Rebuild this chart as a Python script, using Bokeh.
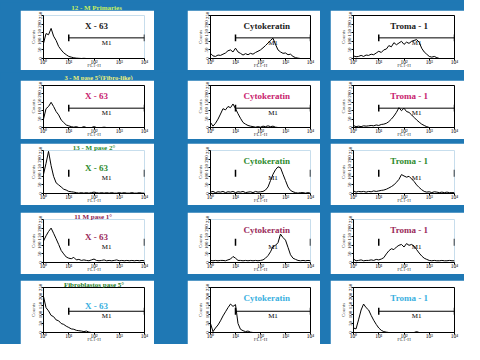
from bokeh.plotting import figure
from bokeh.layouts import row, column
from bokeh.models import Spacer, Label, FixedTicker
from bokeh.embed import file_html
from bokeh.resources import INLINE

BLUE = "#1f78b4"
FONT = "Liberation Serif"

# FL1-H channel positions (log scale, 10^0 .. 10^4)
channels = [1.0, 1.26, 1.58, 2.0, 2.51, 3.16, 3.98, 5.01, 6.31, 7.94,
            10.0, 12.6, 15.8, 20.0, 25.1, 31.6, 39.8, 50.1, 63.1, 79.4,
            100, 126, 158, 200, 251, 316, 398, 501, 631, 794,
            1000, 1259, 1585, 1995, 2512, 3162, 3981, 5012, 6310, 7943, 10000]

# Row 1: 12 - M Primaries
x63_primaries = [88, 145, 138, 175, 130, 105, 70, 50, 33, 22, 12, 8, 4, 2, 1, 0, 1, 0, 0, 0,
                 0, 0, 0, 0, 0, 0, 0, 0, 0, 0, 0, 0, 0, 0, 0, 0, 0, 0, 0, 0, 0]
cyto_primaries = [30, 15, 12, 20, 18, 25, 32, 45, 50, 38, 60, 38, 30, 20, 28, 22, 30, 25, 35, 42,
                  50, 62, 75, 90, 105, 118, 82, 50, 38, 30, 32, 22, 25, 12, 5, 2, 0, 0, 0, 0, 0]
troma_primaries = [15, 10, 12, 18, 12, 20, 18, 25, 22, 32, 42, 35, 50, 55, 75, 68, 92, 80, 90, 100,
                   82, 95, 88, 100, 105, 110, 95, 60, 38, 25, 12, 8, 12, 5, 0, 0, 0, 0, 0, 0, 0]
# Row 2: 3 - M pase 5 (Fibro-like)
x63_p5fib = [50, 112, 125, 150, 125, 95, 75, 45, 30, 15, 10, 5, 2, 5, 0, 0, 5, 0, 0, 0,
             5, 0, 0, 0, 2, 0, 0, 0, 0, 0, 0, 0, 0, 0, 0, 0, 0, 0, 0, 0, 0]
cyto_p5fib = [30, 8, 25, 50, 80, 112, 105, 125, 118, 140, 112, 82, 55, 30, 20, 12, 8, 5, 2, 5,
              2, 8, 5, 10, 5, 8, 2, 0, 0, 0, 0, 0, 0, 0, 0, 0, 0, 0, 0, 0, 0]
troma_p5fib = [12, 5, 8, 5, 10, 8, 10, 12, 10, 15, 12, 18, 20, 25, 35, 50, 68, 90, 118, 100,
               115, 95, 90, 75, 60, 45, 32, 20, 12, 5, 0, 0, 0, 0, 0, 0, 0, 0, 0, 0, 0]
# Row 3: 13 - M pase 2
x63_p2 = [112, 175, 245, 162, 100, 62, 50, 38, 25, 20, 12, 10, 8, 5, 2, 5, 2, 5, 2, 5,
          8, 5, 2, 5, 2, 5, 2, 5, 2, 2, 5, 2, 5, 2, 2, 5, 2, 2, 5, 2, 2]
cyto_p2 = [8, 12, 5, 10, 8, 12, 5, 10, 8, 12, 5, 10, 8, 12, 5, 8, 10, 5, 12, 8,
           10, 12, 20, 38, 75, 112, 138, 155, 150, 112, 75, 38, 18, 10, 5, 2, 5, 5, 2, 5, 2]
troma_p2 = [15, 8, 12, 10, 12, 8, 12, 10, 15, 12, 15, 18, 20, 25, 32, 40, 50, 65, 82, 110,
            102, 95, 100, 85, 70, 50, 35, 22, 12, 8, 10, 5, 10, 8, 5, 8, 5, 8, 5, 5, 5]
# Row 4: 11 M pase 1
x63_p1 = [125, 155, 180, 200, 170, 138, 105, 70, 50, 32, 25, 22, 30, 15, 18, 12, 15, 12, 10, 15,
          20, 12, 10, 12, 15, 10, 12, 10, 12, 15, 10, 12, 10, 12, 10, 12, 10, 12, 10, 12, 10]
cyto_p1 = [12, 10, 12, 10, 12, 12, 10, 15, 20, 35, 25, 12, 12, 10, 12, 10, 12, 10, 12, 10,
           12, 15, 25, 40, 62, 92, 100, 115, 165, 145, 130, 88, 45, 25, 18, 12, 10, 12, 10, 12, 10]
troma_p1 = [20, 10, 12, 15, 10, 12, 12, 15, 12, 18, 15, 20, 28, 50, 68, 80, 75, 90, 100, 105,
            90, 110, 100, 105, 95, 75, 55, 38, 25, 18, 12, 10, 12, 10, 10, 12, 10, 10, 12, 10, 10]
# Row 5: Fibroblastos pase 5
x63_fibro = [200, 138, 120, 95, 88, 70, 65, 50, 45, 35, 28, 20, 18, 12, 10, 8, 5, 8, 2, 0,
             0, 0, 0, 0, 0, 0, 0, 0, 0, 0, 0, 0, 0, 0, 0, 0, 0, 0, 0, 0, 0]
cyto_fibro = [50, 5, 25, 42, 65, 92, 115, 138, 158, 145, 155, 50, 18, 10, 5, 8, 2, 0, 0, 0,
              0, 0, 0, 0, 0, 0, 0, 0, 0, 0, 0, 0, 0, 0, 0, 0, 0, 0, 0, 0, 0]
troma_fibro = [25, 20, 70, 125, 158, 138, 125, 95, 68, 45, 25, 12, 5, 2, 0, 0, 0, 0, 0, 0,
               0, 0, 0, 0, 0, 5, 0, 0, 0, 0, 0, 0, 0, 0, 0, 0, 0, 0, 0, 0, 0]

row_titles = ["12 - M Primaries", "3 - M pase 5\u00b0(Fibro-like)", "13 - M pase 2\u00b0",
              "11  M pase 1\u00b0", "Fibroblastos pase 5\u00b0"]
row_title_colors = ["#c8f060", "#eef27a", "#2a8a2a", "#8b2252", "#1e7b1e"]
panel_labels = ["X - 63", "Cytokeratin", "Troma - 1"]
label_colors = ["#1a1a1a", "#c8226e", "#2e8b2e", "#9a2a5a", "#3ab0e0"]
series = [[x63_primaries, cyto_primaries, troma_primaries],
          [x63_p5fib, cyto_p5fib, troma_p5fib],
          [x63_p2, cyto_p2, troma_p2],
          [x63_p1, cyto_p1, troma_p1],
          [x63_fibro, cyto_fibro, troma_fibro]]

x_ticks = [1, 10, 100, 1000, 10000]
x_tick_labels = ["10\u2070", "10\u00b9", "10\u00b2", "10\u00b3", "10\u2074"]
y_ticks = [0, 50, 100, 150, 200, 250]
gate_lo, gate_hi = 10, 10000
gate_y = [120, 115, 118, 118, 118]
gate_bar = [True, True, False, False, True]

col_w = [134, 133, 134]
row_h = [60, 59, 62, 62, 64]
label_x = [126, 178, 160]


def panel(r, c):
    p = figure(width=col_w[c], height=row_h[r], x_axis_type="log", x_range=(1, 10000),
               y_range=(0, 250), output_backend="svg", toolbar_location=None,
               min_border_left=23, min_border_right=10, min_border_top=5, min_border_bottom=10)
    p.border_fill_color = "white"
    p.background_fill_color = "white"
    outline = (r in (1, 4)) or (r == 0 and c > 0)
    p.outline_line_color = "black" if outline else None
    p.grid.visible = False
    for ax in (p.xaxis[0], p.yaxis[0]):
        ax.axis_line_color = "black"
        ax.major_tick_line_color = "black"
        ax.minor_tick_line_color = None
        ax.major_tick_out = 2
        ax.major_tick_in = 0
        ax.major_label_standoff = 0
        ax.major_label_text_font = FONT
        ax.major_label_text_color = "black"
        ax.axis_label_standoff = 0
        ax.axis_label_text_font = FONT
        ax.axis_label_text_font_size = "5px"
        ax.axis_label_text_font_style = "normal"
    p.xaxis.major_label_text_font_size = "5.5px"
    p.xaxis.major_label_standoff = -2
    p.xaxis.axis_label_standoff = -5
    p.yaxis.major_label_text_font_size = "5px"
    p.xaxis.ticker = FixedTicker(ticks=x_ticks)
    p.xaxis.major_label_overrides = {t: s for t, s in zip(x_ticks, x_tick_labels)}
    p.xaxis.axis_label = "FL1-H"
    p.yaxis.ticker = FixedTicker(ticks=y_ticks)
    p.yaxis.major_label_orientation = "vertical"
    p.yaxis.axis_label = "Counts"

    p.line(channels, series[r][c], line_color="black", line_width=1)

    gy = gate_y[r]
    if gate_bar[r]:
        p.segment(x0=[gate_lo], y0=[gy], x1=[gate_hi], y1=[gy], line_color="black", line_width=1)
    p.segment(x0=[gate_lo, gate_hi], y0=[gy - 20, gy - 20], x1=[gate_lo, gate_hi],
              y1=[gy + 20, gy + 20], line_color="black", line_width=1.5)
    p.add_layout(Label(x=316, y=gy - 28, text="M1", text_font=FONT, text_font_size="7px",
                       text_align="center", text_baseline="middle", text_color="black"))

    ly = 150 if (c == 0 and r >= 2) else 190
    p.add_layout(Label(x=label_x[c], y=ly, text=panel_labels[c], text_font=FONT,
                       text_font_size="9px", text_font_style="bold", text_align="center",
                       text_baseline="middle", text_color=label_colors[r]))
    if c == 0 and r >= 2:
        p.title.text = row_titles[r]
        p.title.align = "center"
        p.title.text_font = FONT
        p.title.text_font_size = "7px"
        p.title.text_font_style = "bold"
        p.title.text_color = row_title_colors[r]
        p.title.standoff = -3
        p.title.offset = 0
    return p


def strip(h, r, cx, fs):
    s = figure(width=464, height=h, x_range=(0, 464), y_range=(0, h), output_backend="svg",
               toolbar_location=None, min_border=0, x_axis_location=None, y_axis_location=None)
    s.grid.visible = False
    s.outline_line_color = None
    s.background_fill_color = BLUE
    s.border_fill_color = BLUE
    s.add_layout(Label(x=cx, y=h / 2, text=row_titles[r], text_font=FONT, text_font_size=fs,
                       text_font_style="bold", text_align="center", text_baseline="middle",
                       text_color=row_title_colors[r]))
    return s


def sp(w, h):
    return Spacer(width=w, height=h, styles={"background-color": BLUE})


def panel_row(r):
    h = row_h[r]
    return row(sp(20, h), panel(r, 0), sp(33, h), panel(r, 1), sp(10, h), panel(r, 2),
               styles={"background-color": BLUE})


layout = column(
    strip(10, 0, 96, "7px"),
    panel_row(0),
    strip(10, 1, 98, "6.5px"),
    panel_row(1),
    sp(464, 4),
    panel_row(2),
    sp(464, 7),
    panel_row(3),
    sp(464, 6),
    panel_row(4),
    styles={"background-color": BLUE},
)

open("out.html", "w").write(file_html(layout, INLINE))
